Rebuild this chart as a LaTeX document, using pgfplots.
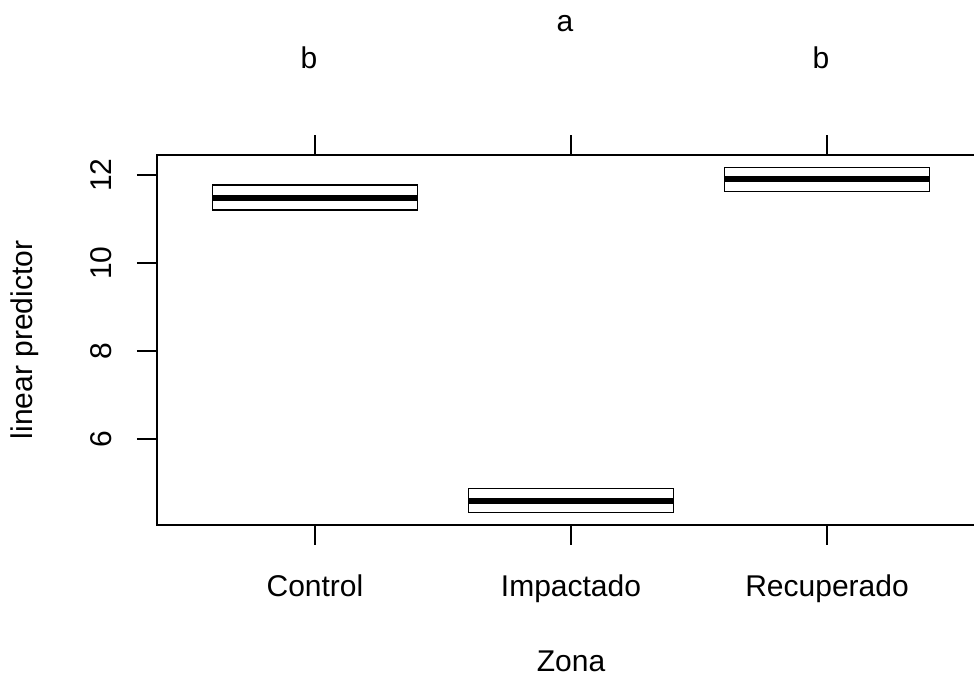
\documentclass[border=0pt]{standalone}
\usepackage{fontspec}
\setmainfont{Liberation Sans}
\usepackage{pgfplots}
\pgfplotsset{compat=1.18}
\begin{document}
\begin{tikzpicture}[font=\fontsize{15}{18}\selectfont]
\useasboundingbox (-78.5pt,-77pt) rectangle (408.5pt,262.5pt);
\clip (-78.5pt,-77pt) rectangle (408.5pt,262.5pt);
\begin{axis}[
  at={(0,0)}, anchor=south west,
  scale only axis, width=414pt, height=185pt,
  xmin=0.383, xmax=3.617, ymin=4.045, ymax=12.455,
  xtick={1,2,3}, xticklabels={Control,Impactado,Recuperado},
  ytick={6,8,10,12},
  xtick pos=both, ytick pos=left, xticklabel pos=lower,
  tick align=outside, major tick length=10pt,
  axis line style={line width=0.75pt},
  every tick/.style={line width=0.75pt, black},
  /pgf/number format/assume math mode=true,
  tick label style={font=\fontsize{15}{18}\selectfont},
  label style={font=\fontsize{15}{18}\selectfont},
  xticklabel style={anchor=base}, xticklabel shift=26pt,
  yticklabel style={rotate=90, anchor=base}, yticklabel shift=12.5pt,
  every axis x label/.style={at={(axis description cs:0.5,-0.3946)}, anchor=base},
  every axis y label/.style={at={(axis description cs:-0.1498,0.5)}, rotate=90, anchor=base},
  xlabel={Zona}, ylabel={linear predictor},
  clip=false,
]
\addplot[black, line width=0.75pt, line cap=rect, mark=none] coordinates {(0.6,11.20) (1.4,11.20) (1.4,11.77) (0.6,11.77) (0.6,11.20)};
\addplot[black, line width=3pt, mark=none] coordinates {(0.6,11.48) (1.4,11.48)};
\addplot[black, line width=0.75pt, line cap=rect, mark=none] coordinates {(1.6,4.33) (2.4,4.33) (2.4,4.88) (1.6,4.88) (1.6,4.33)};
\addplot[black, line width=3pt, mark=none] coordinates {(1.6,4.60) (2.4,4.60)};
\addplot[black, line width=0.75pt, line cap=rect, mark=none] coordinates {(2.6,11.62) (3.4,11.62) (3.4,12.175) (2.6,12.175) (2.6,11.62)};
\addplot[black, line width=3pt, mark=none] coordinates {(2.6,11.90) (3.4,11.90)};
\node[anchor=base, xshift=-3pt, yshift=43.5pt] at (axis cs:1,12.455) {b};
\node[anchor=base, xshift=-3pt, yshift=61.5pt] at (axis cs:2,12.455) {a};
\node[anchor=base, xshift=-3pt, yshift=43.5pt] at (axis cs:3,12.455) {b};
\end{axis}
\end{tikzpicture}
\end{document}
